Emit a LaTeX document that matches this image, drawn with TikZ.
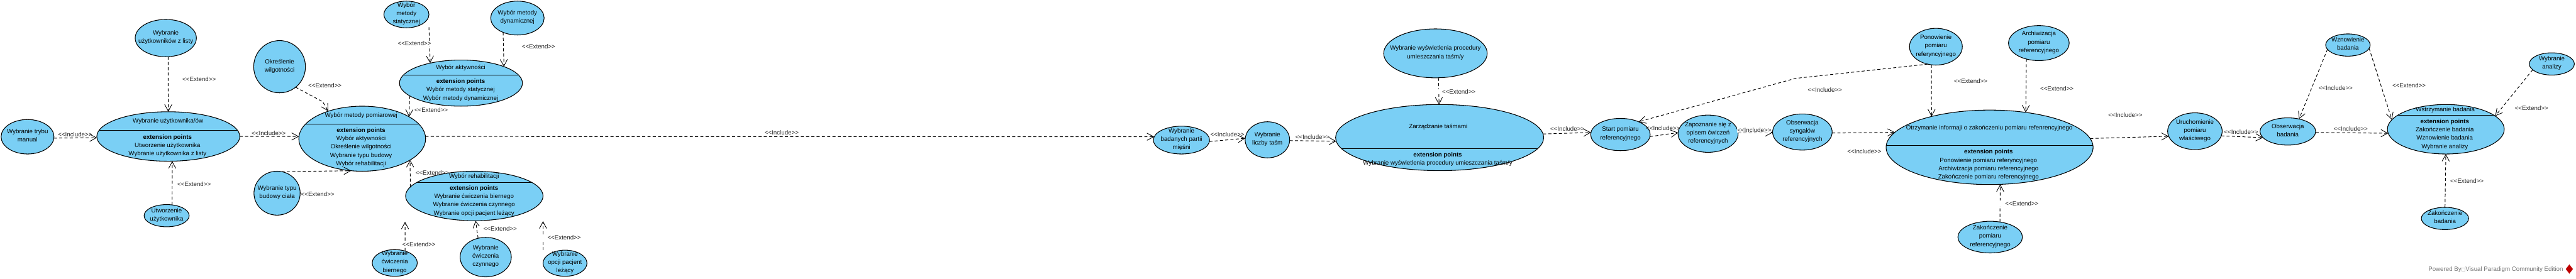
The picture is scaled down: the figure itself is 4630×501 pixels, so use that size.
\documentclass[tikz,border=0pt]{standalone}
\usepackage{fontspec}
\setmainfont{Liberation Sans}
\newfontfamily\symfont{DejaVu Sans}
\usetikzlibrary{shapes.geometric,arrows.meta}
\definecolor{ucfill}{RGB}{122,207,245}
\newcommand{\ovaltext}[1]{\raisebox{-2.9bp}{\smash{\makebox[0pt]{\begin{tabular}{@{}c@{}}#1\end{tabular}}}}}
\newcommand{\Inc}{<{}<Include>{}>}
\newcommand{\Ext}{<{}<Extend>{}>}
% \uc{name}{cx}{cy}{rx}{ry}{text}
\newcommand{\uc}[6]{\node[usecase,minimum width=#4*2bp,minimum height=#5*2bp] (#1) at (#2,#3) {\ovaltext{#6}};}
% \ucd{name}{cx}{cy}{rx}{ry}{divider y}
\newcommand{\ucd}[6]{\node[usecase,minimum width=#4*2bp,minimum height=#5*2bp] (#1) at (#2,#3) {};
  \begin{scope}\clip (#2,#3) ellipse [x radius=#4,y radius=#5];\draw[divider] (#2-#4,#6) -- (#2+#4,#6);\end{scope}}
\tikzset{
  x=1bp,y=-1bp,
  usecase/.style={ellipse,draw=black,fill=ucfill,line width=1.2bp,inner sep=0pt,outer sep=0pt},
  divider/.style={draw=black,line width=1.2bp},
  uctext/.style={inner sep=0pt,align=center,font=\fontsize{11bp}{15bp}\selectfont},
  inc/.style={draw=black,line width=1.1bp,dash pattern=on 5.5bp off 4bp,-{Straight Barb[length=12bp,width=13bp,line width=1bp,sep=0pt]}},
  lab/.style={inner sep=0pt,font=\fontsize{11bp}{13bp}\selectfont,text=black!85},
  labw/.style={lab,fill=white,inner xsep=11bp,inner ysep=1bp},
  labn/.style={lab,fill=white,inner xsep=0pt,inner ysep=1bp},
}
\begin{document}
\begin{tikzpicture}[font=\fontsize{11bp}{15bp}\selectfont]
\useasboundingbox (0,0) rectangle (4630,501);
\fill[white] (0,0) rectangle (4630,501);
% --- use cases
\uc{A}{298}{68.5}{55}{33.5}{Wybranie\\użytkowników z listy}
\ucd{B}{302.5}{245.5}{128.5}{44.5}{235}
\node[uctext] (Bt) at (302,218) {Wybranie użytkownika/ów};
\node[uctext] (Bx) at (301,262) {\textbf{extension points}\\Utworzenie użytkownika\\Wybranie użytkownika z listy};
\uc{C}{49.5}{246}{47.5}{31}{Wybranie trybu\\manual}
\uc{D}{299.5}{388}{40.5}{20}{Utworzenie\\użytkownika}
\uc{E}{502.5}{120}{46.5}{47}{Określenie\\wilgotności}
\ucd{F}{651}{249.5}{114}{58.5}{223}
\node[uctext] (Ft) at (649,208) {Wybór metody pomiarowej};
\node[uctext] (Fx) at (649,265) {\textbf{extension points}\\Wybór aktywności\\Określenie wilgotności\\Wybranie typu budowy\\Wybór rehabilitacji};
\uc{G}{730.5}{26}{40.5}{24}{Wybór\\metody\\statycznej}
\uc{H}{930}{32.5}{48}{30.5}{Wybór metody\\dynamicznej}
\ucd{I}{828.5}{149.5}{110.5}{41.5}{135}
\node[uctext] (It) at (828,122) {Wybór aktywności};
\node[uctext] (Ix) at (828,162) {\textbf{extension points}\\Wybór metody statycznej\\Wybór metody dynamicznej};
\uc{J}{498}{347.5}{41.5}{39.5}{Wybranie typu\\budowy ciała}
\ucd{K}{852.5}{352.5}{123.5}{44.5}{328}
\node[uctext] (Kt) at (852,318) {Wybór rehabilitacji};
\node[uctext] (Kx) at (852,361.5) {\textbf{extension points}\\Wybranie ćwiczenia biernego\\Wybranie ćwiczenia czynnego\\Wybranie opcji pacjent leżący};
\uc{L}{709.5}{473}{40.5}{24}{Wybranie\\ćwiczenia\\biernego}
\uc{M}{873}{462.5}{46}{35.5}{Wybranie\\ćwiczenia\\czynnego}
\uc{N}{1015.5}{473.5}{39.5}{23.5}{Wybranie\\opcji pacjent\\leżący}
\uc{O}{2123.5}{252}{50.5}{25}{Wybranie\\badanych partii\\mięśni}
\uc{P}{2278}{251.5}{40}{32.5}{Wybranie\\liczby taśm}
\ucd{Q}{2587.5}{247.5}{187}{59.5}{267}
\node[uctext] (Qt) at (2585,228) {Zarządzanie taśmami};
\node[uctext] (Qx) at (2584,286.5) {\textbf{extension points}\\Wybranie wyświetlenia procedury umieszczania taśm/y};
\uc{R}{2580}{96}{93}{44}{Wybranie wyświetlenia procedury\\umieszczania taśm/y}
\uc{S}{2912.5}{242}{53.5}{29}{Start pomiaru\\referencyjnego}
\uc{T}{3070}{240.5}{54}{33.5}{Zapoznanie się z\\opisem ćwiczeń\\referencyjnych}
\uc{U}{3239.5}{237.5}{53.5}{32.5}{Obserwacja\\syngałów\\referencyjnych}
\uc{V}{3479.5}{84}{47.5}{33}{Ponowienie\\pomiaru\\referyncyjnego}
\uc{W}{3664.5}{77.5}{54.5}{31.5}{Archiwizacja\\pomiaru\\referencyjnego}
\ucd{X}{3576}{265}{186}{67}{262}
\node[uctext] (Xt) at (3575.5,230) {Otrzymanie informaji o zakończeniu pomiaru refenrencyjnego};
\node[uctext] (Xx) at (3574,296.5) {\textbf{extension points}\\Ponowienie pomiaru referyncyjnego\\Archiwizacja pomiaru referencyjnego\\Zakończenie pomiaru referencyjnego};
\uc{Y}{3577}{426.5}{58}{28.5}{Zakończenie\\pomiaru\\referencyjnego}
\uc{Z}{3945}{236}{49}{33}{Uruchomienie\\pomiaru\\właściwego}
\uc{AA}{4112}{236.5}{50}{24.5}{Obserwacja\\badania}
\uc{AB}{4220}{81}{40}{20}{Wznowienie\\badania}
\uc{AC}{4586.5}{115}{40.5}{20}{Wybranie\\analizy}
\ucd{AD}{4396}{232.5}{105}{44.5}{207}
\node[uctext] (ADt) at (4395,198) {Wstrzymanie badania};
\node[uctext] (ADx) at (4394,241.5) {\textbf{extension points}\\Zakończenie badania\\Wznowienie badania\\Wybranie analizy};
\uc{AE}{4394.5}{393}{42.5}{20}{Zakończenie\\badania}
% --- free ends and bends
\coordinate (ebend) at (580,183);
\coordinate (gfree) at (771,49);
\coordinate (kfreeL) at (728,399);
\coordinate (nfree) at (976,450);
\coordinate (kfreeR) at (976,398);
\coordinate (vbend) at (3227,141);
% --- connectors
\draw[inc] (A.-83.3) -- (B.90);
\draw[inc] (C.-3.6) -- (B.181.6);
\draw[inc] (D.63.9) -- (B.-81.7);
\draw[inc] (B.-0.7) -- (F.178.7);
\draw[inc] (E.-52.2) -- (ebend) -- (F.141);
\draw[inc] (gfree) -- (I.147.7);
\draw[inc] (H.-135.4) -- (I.21.9);
\draw[inc] (I.-166.7) -- (F.25.2);
\draw[inc] (F.2.3) -- (O.173);
\draw[inc] (J.78.4) -- (F.-109.2);
\draw[inc] (K.172.8) -- (F.-24.6);
\draw[inc] (L.49) -- (kfreeL);
\draw[inc] (M.112.5) -- (K.-87);
\draw[inc] (nfree) -- (kfreeR);
\draw[inc] (O.-3) -- (P.176.4);
\draw[inc] (P.-2.1) -- (Q.-178.3);
\draw[inc] (R.-83.5) -- (Q.91);
\draw[inc] (Q.2.6) -- (S.176.8);
\draw[inc] (S.-4.3) -- (T.178.4);
\draw[inc] (T.2.6) -- (U.-179.5);
\draw[inc] (V.-115.6) -- (vbend) -- (S.35.3);
\draw[inc] (U.-2.7) -- (X.171.8);
\draw[inc] (V.-104.7) -- (X.152.6);
\draw[inc] (W.-128.1) -- (X.44);
\draw[inc] (Y.57.2) -- (X.-74.4);
\draw[inc] (X.5.7) -- (Z.-169.2);
\draw[inc] (Z.-10.8) -- (AA.-166.9);
\draw[inc] (AA.-2.9) -- (AD.-176.5);
\draw[inc] (AB.-168) -- (AA.48.4);
\draw[inc] (AB.-9.3) -- (AD.170);
\draw[inc] (AC.-163) -- (AD.15.4);
\draw[inc] (AE.north) -- (AD.south);
% --- connector labels
\node[lab] (l01) at (358,142) {\Ext};
\node[lab] (l02) at (135,242) {\Inc};
\node[lab] (l03) at (349,331) {\Ext};
\node[lab] (l04) at (483,240) {\Inc};
\node[lab] (l05) at (584,154) {\Ext};
\node[labw] (l06) at (745,78) {\Ext};
\node[lab] (l07) at (968,84) {\Ext};
\node[lab] (l08) at (775,198) {\Ext};
\node[lab] (l09) at (571,349) {\Ext};
\node[lab] (l10) at (777,311) {\Ext};
\node[labw] (l11) at (753,440) {\Ext};
\node[labw] (l12) at (899,412) {\Ext};
\node[labw] (l13) at (1014,427) {\Ext};
\node[lab] (l14) at (1405,238) {\Inc};
\node[lab] (l15) at (2206,242) {\Inc};
\node[lab] (l16) at (2359,246) {\Inc};
\node[labw] (l17) at (2622,165) {\Ext};
\node[lab] (l18) at (2817,232) {\Inc};
\node[lab] (l19) at (2989,231) {\Inc};
\node[labn] (l20) at (3153,234) {\Inc};
\node[lab] (l21) at (3280,162) {\Inc};
\node[lab] (l22) at (3351,273) {\Inc};
\node[lab] (l23) at (3542,146) {\Ext};
\node[lab] (l24) at (3697,159) {\Ext};
\node[labw] (l25) at (3634,366) {\Ext};
\node[lab] (l26) at (3820,207) {\Inc};
\node[lab] (l27) at (4028,237) {\Inc};
\node[lab] (l28) at (4225,232) {\Inc};
\node[lab] (l29) at (4198,158) {\Inc};
\node[lab] (l30) at (4330,154) {\Ext};
\node[lab] (l31) at (4550,194) {\Ext};
\node[lab] (l32) at (4434,326) {\Ext};
% --- footer
\node[inner sep=0pt,anchor=east,text=black!55,font=\fontsize{11bp}{13bp}\selectfont] (powered) at (4607,485) {Powered By{\symfont\fontsize{8bp}{10bp}\selectfont □}Visual Paradigm Community Edition};
\node[diamond,fill=red!75!black,inner sep=0pt,minimum width=13bp,minimum height=17bp] (logo) at (4618,484) {};
\end{tikzpicture}
\end{document}
